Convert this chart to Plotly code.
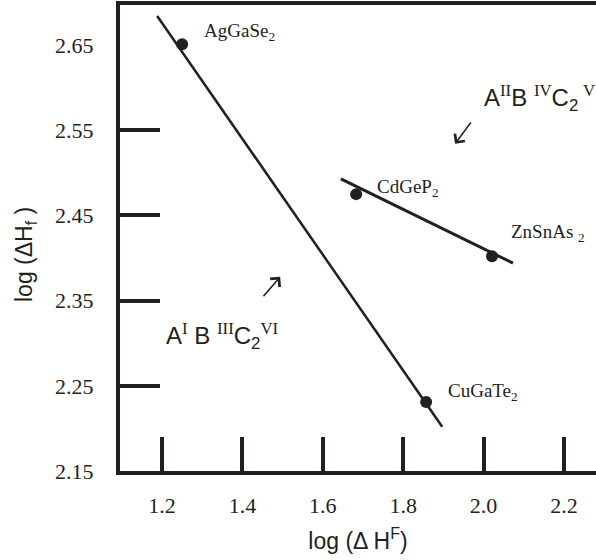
import plotly.graph_objects as go

# ---- data ----
compounds = ["AgGaSe<sub>2</sub>", "CdGeP<sub>2</sub>", "ZnSnAs <sub>2</sub>", "CuGaTe<sub>2</sub>"]
log_dHF = [1.25, 1.683, 2.021, 1.857]
log_dHf = [2.651, 2.475, 2.402, 2.231]

# fitted lines (end points)
line1_x = [1.188, 1.897]
line1_y = [2.684, 2.202]
line2_x = [1.645, 2.073]
line2_y = [2.493, 2.394]

x_ticks = [1.2, 1.4, 1.6, 1.8, 2.0, 2.2]
x_ticktext = ["1.2", "1.4", "1.6", "1.8", "2.0", "2.2"]
y_ticks = [2.15, 2.25, 2.35, 2.45, 2.55, 2.65]
y_ticktext = ["2.15", "2.25", "2.35", "2.45", "2.55", "2.65"]
y_bar_ticks = [2.25, 2.35, 2.45, 2.55]

SERIF = "Liberation Serif, Times New Roman, serif"
SANS = "Liberation Sans, Arial, sans-serif"
INK = "#231f20"

fig = go.Figure()
fig.add_trace(go.Scatter(x=line1_x, y=line1_y, mode="lines",
                         line=dict(color=INK, width=2.5), showlegend=False))
fig.add_trace(go.Scatter(x=line2_x, y=line2_y, mode="lines",
                         line=dict(color=INK, width=3), showlegend=False))
fig.add_trace(go.Scatter(x=log_dHF, y=log_dHf, mode="markers",
                         marker=dict(color=INK, size=12), showlegend=False))
# dummy trace for second y axis (tick bars)
fig.add_trace(go.Scatter(x=[None], y=[None], yaxis="y2", showlegend=False))

# compound labels
label_pos = [(1.300, 2.665), (1.730, 2.482), (2.064, 2.429), (1.907, 2.243)]
for name, (lx, ly) in zip(compounds, label_pos):
    fig.add_annotation(x=lx, y=ly, text=name, showarrow=False, xanchor="left",
                       yanchor="middle", font=dict(family=SERIF, size=19, color=INK))

sup = '<span style="font-family:Liberation Serif">'
fig.add_annotation(
    x=1.996, y=2.588, xanchor="left", yanchor="middle", showarrow=False,
    text=("A<sup>" + sup + "II</span></sup>B <sup>" + sup + "IV</span></sup>C<sub>2</sub>\u2009"
          "<sup>" + sup + "V</span></sup>"),
    font=dict(family=SANS, size=24, color=INK))
fig.add_annotation(
    x=1.205, y=2.308, xanchor="left", yanchor="middle", showarrow=False,
    text=("A<sup>" + sup + "I</span></sup> B <sup>" + sup + "III</span></sup>C<sub>2</sub>"
          "<sup>" + sup + "VI</span></sup>"),
    font=dict(family=SANS, size=24, color=INK))

# arrows
fig.add_annotation(x=1.929, y=2.534, ax=17, ay=-23, showarrow=True, text="",
                   arrowhead=4, arrowsize=1.5, arrowwidth=1.6, arrowcolor=INK)
fig.add_annotation(x=1.494, y=2.378, ax=-18, ay=21, showarrow=True, text="",
                   arrowhead=4, arrowsize=1.5, arrowwidth=1.6, arrowcolor=INK)

# y axis title (placed as annotation to match its off-centre position)
fig.add_annotation(xref="paper", yref="paper", x=0, y=0.4635, xshift=-95,
                   xanchor="center", yanchor="middle", textangle=-90, showarrow=False,
                   text="log (ΔH<sub>f</sub> )", font=dict(family=SANS, size=23, color=INK))

fig.update_layout(
    width=596, height=560,
    margin=dict(l=120, r=0, t=5, b=89),
    paper_bgcolor="white", plot_bgcolor="white",
    xaxis=dict(range=[1.0955, 2.2796], tickvals=x_ticks, ticktext=x_ticktext,
               ticks="inside", ticklen=34, tickwidth=4, tickcolor=INK,
               showline=True, linewidth=4, linecolor=INK, mirror=True,
               showgrid=False, zeroline=False, ticklabelstandoff=12,
               tickfont=dict(family=SERIF, size=22, color=INK),
               title=dict(text="log (Δ H<sup>F</sup>)", standoff=16,
                          font=dict(family=SANS, size=23, color=INK))),
    yaxis=dict(range=[2.15, 2.697], tickvals=y_ticks, ticktext=y_ticktext,
               ticks="", showline=True, linewidth=4, linecolor=INK,
               showgrid=False, zeroline=False, ticklabelstandoff=18,
               tickfont=dict(family=SERIF, size=22, color=INK)),
    yaxis2=dict(range=[2.15, 2.697], overlaying="y", side="left",
                tickvals=y_bar_ticks, ticks="inside", ticklen=40, tickwidth=4,
                tickcolor=INK, showticklabels=False, showgrid=False,
                zeroline=False, showline=False),
)

fig.write_html("out.html", config={"displayModeBar": False},
               post_script="document.body.style.margin='0';")
